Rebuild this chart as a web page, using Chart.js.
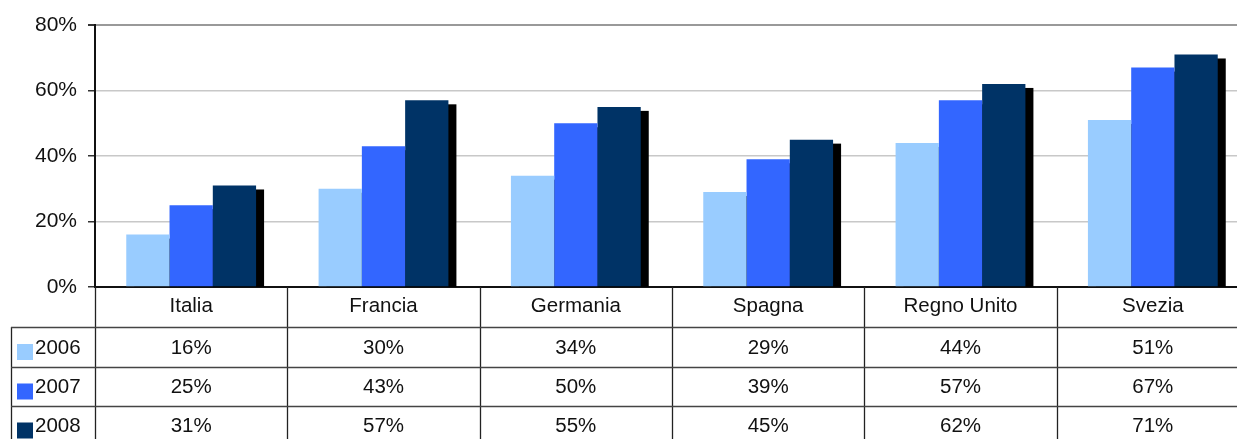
<!DOCTYPE html>
<html><head><meta charset="utf-8">
<script src="https://cdn.jsdelivr.net/npm/chart.js@4.4.1/dist/chart.umd.min.js"></script>
<style>
html,body{margin:0;padding:0;background:#fff;overflow:hidden;width:1237px;height:439px;}
#wrap{position:absolute;left:0;top:0;width:1249px;height:439px;}
</style></head>
<body><div id="wrap"><canvas id="c" width="1249" height="439"></canvas></div>
<script>
const categories = ["Italia","Francia","Germania","Spagna","Regno Unito","Svezia"];
const seriesNames = ["2006","2007","2008"];
const v2006 = [16,30,34,29,44,51];
const v2007 = [25,43,50,39,57,67];
const v2008 = [31,57,55,45,62,71];
const colors = ["#99CCFF","#3366FF","#003366"];
const yTicks = [0,20,40,60,80];
const FONT = "Liberation Sans, Arial, sans-serif";

// draws a flat black offset shadow behind every bar, using the bar elements' own geometry
const shadowPlugin = {
  id:'shadow',
  beforeDatasetsDraw(chart){
    const ctx=chart.ctx, ca=chart.chartArea;
    ctx.save();
    ctx.beginPath(); ctx.rect(ca.left,ca.top-10,ca.right-ca.left,ca.bottom-ca.top+10); ctx.clip();
    ctx.fillStyle='#000';
    chart.data.datasets.forEach((d,i)=>{
      chart.getDatasetMeta(i).data.forEach(el=>{
        const p=el.getProps(['x','y','width','base'],true);
        ctx.fillRect(p.x-p.width/2+8,p.y+4,p.width,p.base-p.y);
      });
    });
    ctx.restore();
  }
};

const tablePlugin = {
  id:'table',
  afterDraw(chart){
    const ctx=chart.ctx, x=chart.scales.x, ca=chart.chartArea;
    const step = x.getPixelForValue(1)-x.getPixelForValue(0);
    const y0=ca.bottom, r1=327, r2=367, r3=406, bottom=439;
    const leftX=11;
    ctx.save();
    ctx.strokeStyle='#222'; ctx.lineWidth=1.3;
    ctx.beginPath();
    for(let i=0;i<=categories.length;i++){
      const px=Math.round(x.getPixelForValue(i)-step/2)+0.5;
      ctx.moveTo(px,y0); ctx.lineTo(px,bottom);
    }
    ctx.moveTo(leftX+0.5,r1); ctx.lineTo(leftX+0.5,bottom);
    ctx.stroke();
    ctx.strokeStyle='#444';
    ctx.beginPath();
    [r1,r2,r3].forEach(y=>{ctx.moveTo(leftX,y+0.5);ctx.lineTo(chart.width,y+0.5);});
    ctx.stroke();
    ctx.fillStyle='#111'; ctx.font='20.5px '+FONT; ctx.textAlign='center'; ctx.textBaseline='middle';
    categories.forEach((c,i)=>ctx.fillText(c,x.getPixelForValue(i),306));
    const rows=[v2006,v2007,v2008]; const tops=[r1,r2,r3]; const bots=[r2,r3,bottom+6];
    rows.forEach((vals,k)=>{
      const cy=(tops[k]+bots[k])/2+1;
      vals.forEach((v,i)=>{ctx.fillStyle='#111';ctx.textAlign='center';ctx.fillText(v+'%',x.getPixelForValue(i),cy);});
      ctx.fillStyle=colors[k]; ctx.fillRect(17,cy-4,16,16);
      ctx.fillStyle='#111'; ctx.textAlign='left'; ctx.fillText(seriesNames[k],35,cy);
    });
    ctx.restore();
  }
};

new Chart(document.getElementById('c'),{
  type:'bar',
  data:{labels:categories,datasets:[v2006,v2007,v2008].map((d,k)=>({label:seriesNames[k],data:d,backgroundColor:colors[k],borderWidth:0,categoryPercentage:0.675,barPercentage:1.0}))},
  options:{
    responsive:false,animation:false,events:[],
    layout:{padding:{top:25,right:0,bottom:152,left:0}},
    plugins:{legend:{display:false},tooltip:{enabled:false},title:{display:false}},
    scales:{
      x:{z:1,grid:{display:false},ticks:{display:false},border:{display:true,color:'#111',width:2},
         afterFit(s){s.height=0;}},
      y:{min:0,max:80,afterBuildTicks(s){s.ticks=yTicks.map(v=>({value:v}));},
         afterFit(s){s.width=95;},
         ticks:{color:'#111',font:{family:FONT,size:21},padding:11,callback:v=>v+'%'},
         grid:{color:c=>c.tick&&c.tick.value===80?'#999':'#c8c8c8',lineWidth:c=>c.tick&&c.tick.value===80?2:1.5,tickLength:7,tickColor:'#333',drawTicks:true},
         border:{display:true,color:'#111',width:2}}
    }
  },
  plugins:[shadowPlugin,tablePlugin]
});
</script></body></html>
